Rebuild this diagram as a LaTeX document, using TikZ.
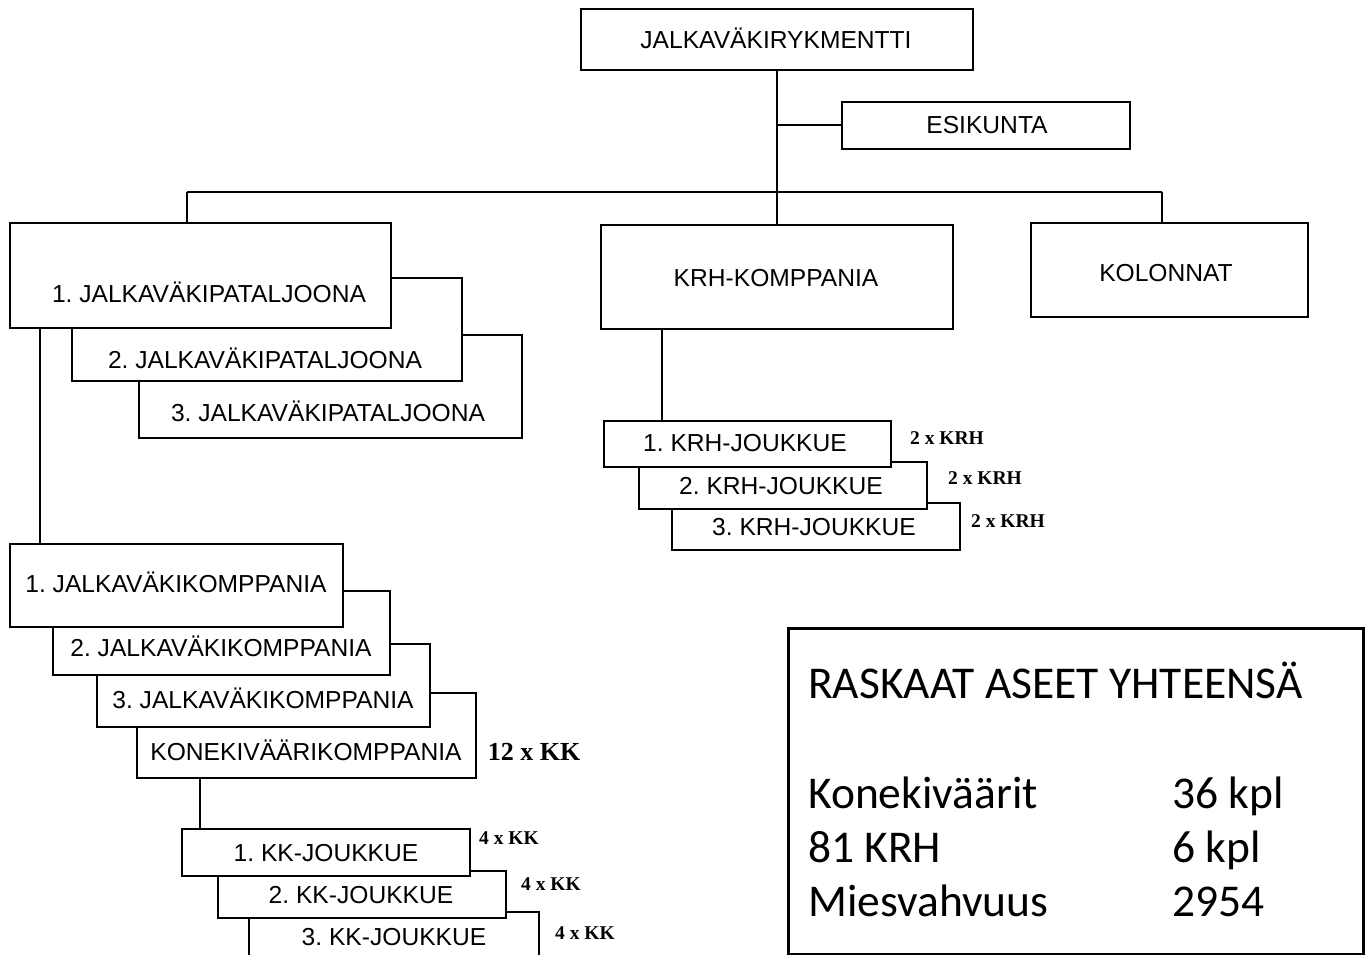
\documentclass[tikz,border=0pt]{standalone}
\usepackage{fontspec}
\setmainfont{Liberation Sans}
\newfontfamily\tnrfont{Liberation Serif}
\newfontfamily\calfont{Carlito}
\frenchspacing
\newcommand\mkbox[5]{\node[bx, minimum width={#4pt-#2pt}, minimum height={#5pt-#3pt}] (#1) at (#2,#3) {};}
\tikzset{
  bx/.style={draw, line width=1.8pt, fill=white, anchor=north west, inner sep=0pt},
  lab/.style={font=\frenchspacing\fontsize{24.6}{26}\selectfont, text height=17.6pt, text depth=0pt, inner sep=0pt},
  wpn/.style={font=\tnrfont\bfseries\fontsize{19.5}{20}\selectfont, text height=13pt, text depth=0pt, inner sep=0pt},
  wpnbig/.style={font=\tnrfont\bfseries\fontsize{26}{27}\selectfont, text height=17.5pt, text depth=0pt, inner sep=0pt},
  sumtxt/.style={font=\calfont\fontsize{45.5}{50}\selectfont, anchor=base west, inner sep=0pt},
  conn/.style={line width=1.8pt}
}
\begin{document}
\begin{tikzpicture}[x=1pt,y=-1pt]
\useasboundingbox (0,0) rectangle (1367,955);
\clip (0,0) rectangle (1367,955);
% top level
\mkbox{top}{580}{8}{972}{69}
\node[lab] (topt) at (776,40) {JALKAVÄKIRYKMENTTI};
\mkbox{esik}{841}{101}{1129}{148}
\node[lab] (esikt) at (987,125) {ESIKUNTA};
% battalions
\mkbox{p3}{138}{334}{521}{437}
\node[lab] (p3t) at (328,413) {3. JALKAVÄKIPATALJOONA};
\mkbox{p2}{71}{277}{461}{380}
\node[lab] (p2t) at (265,360) {2. JALKAVÄKIPATALJOONA};
\mkbox{p1}{9}{222}{390}{327}
\node[lab] (p1t) at (209,294) {1. JALKAVÄKIPATALJOONA};
\mkbox{krh}{600}{224}{952}{328}
\node[lab] (krht) at (776,278) {KRH-KOMPPANIA};
\mkbox{kol}{1030}{222}{1307}{316}
\node[lab] (kolt) at (1166,273) {KOLONNAT};
% mortar platoons
\mkbox{kj3}{671}{502}{959}{549}
\node[lab] (kj3t) at (814,527) {3. KRH-JOUKKUE};
\mkbox{kj2}{638}{461}{926}{508}
\node[lab] (kj2t) at (781,486) {2. KRH-JOUKKUE};
\mkbox{kj1}{603}{420}{890}{466}
\node[lab] (kj1t) at (745,443) {1. KRH-JOUKKUE};
\node[wpn] (w1) at (947,438) {2 x KRH};
\node[wpn] (w2) at (985,478) {2 x KRH};
\node[wpn] (w3) at (1008,521) {2 x KRH};
% companies
\mkbox{kon}{136}{692}{475}{777}
\node[lab] (kont) at (306,752) {KONEKIVÄÄRIKOMPPANIA};
\mkbox{c3}{96}{643}{429}{726}
\node[lab] (c3t) at (263,700) {3. JALKAVÄKIKOMPPANIA};
\mkbox{c2}{52}{590}{389}{674}
\node[lab] (c2t) at (221,648) {2. JALKAVÄKIKOMPPANIA};
\mkbox{c1}{9}{543}{342}{626}
\node[lab] (c1t) at (176,584) {1. JALKAVÄKIKOMPPANIA};
\node[wpnbig] (w12) at (534,752) {12 x KK};
% MG platoons
\mkbox{kk3}{248}{911}{538}{975}
\node[lab] (kk3t) at (394,937) {3. KK-JOUKKUE};
\mkbox{kk2}{217}{870}{505}{917}
\node[lab] (kk2t) at (361,895) {2. KK-JOUKKUE};
\mkbox{kk1}{181}{828}{469}{875}
\node[lab] (kk1t) at (326,853) {1. KK-JOUKKUE};
\node[wpn] (k1) at (509,838) {4 x KK};
\node[wpn] (k2) at (551,884) {4 x KK};
\node[wpn] (k3) at (585,933) {4 x KK};
% connectors
\coordinate (b1) at (187,192);
\coordinate (b2) at (1162,192);
\draw[conn] (top.south) -- (krh.north);
\draw[conn] (esik.west) -- (esik.west -| top.south);
\draw[conn] (b1) -- (b2);
\draw[conn] (b1) -- (b1 |- p1.north);
\draw[conn] (b2) -- (b2 |- kol.north);
\draw[conn] ([xshift=31]p1.south west) -- ([xshift=31]p1.south west |- c1.north);
\draw[conn] ([xshift=62]krh.south west) -- ([xshift=62]krh.south west |- kj1.north);
\draw[conn] ([xshift=64]kon.south west) -- ([xshift=64]kon.south west |- kk1.north);
% summary
\node[draw, line width=3.4pt, anchor=north west, minimum width=575pt, minimum height=326pt, inner sep=0pt] (sum) at (787,627) {};
\node[sumtxt] (s0) at (808,698) {RASKAAT ASEET YHTEENSÄ};
\node[sumtxt] (s1) at (808,808) {Konekiväärit};
\node[sumtxt] (s2) at (808,862) {81 KRH};
\node[sumtxt] (s3) at (808,916) {Miesvahvuus};
\node[sumtxt] (v1) at (1172,808) {36 kpl};
\node[sumtxt] (v2) at (1172,862) {6 kpl};
\node[sumtxt] (v3) at (1172,916) {2954};
\end{tikzpicture}
\end{document}
